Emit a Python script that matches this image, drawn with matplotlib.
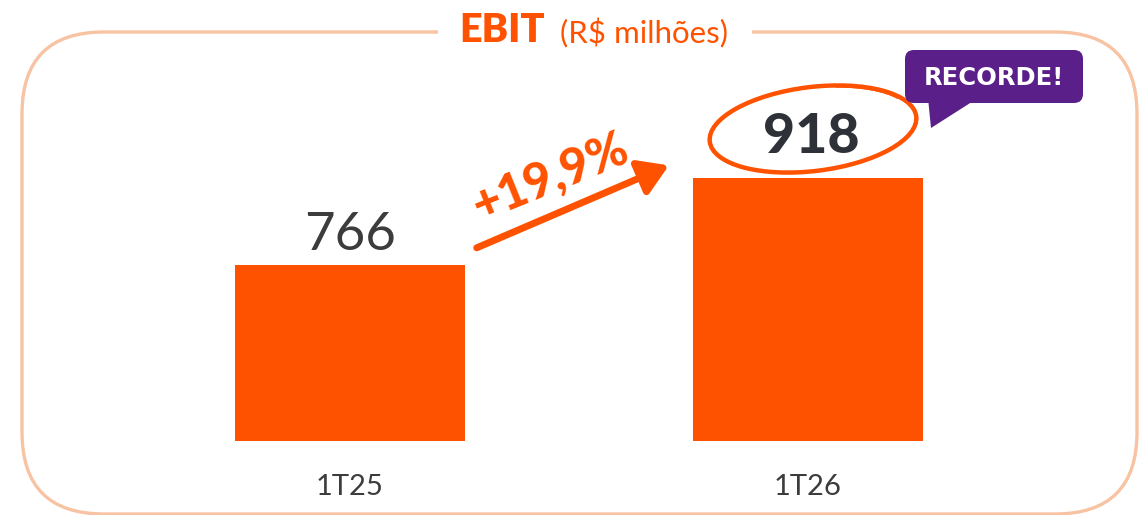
import numpy as np
import matplotlib.pyplot as plt
from matplotlib.patches import FancyBboxPatch, Ellipse, Arc, Polygon, Rectangle

periods = ["1T25", "1T26"]
ebit = [766, 918]
growth = "+19,9%"
record_tag = "RECORDE!"

ORANGE = "#FF5200"
FRAME = "#F8C3A2"
PURPLE = "#5A1F88"
DARK = "#2E3138"
GREY = "#3C3C3C"

plt.rcParams["font.family"] = ["Lato", "DejaVu Sans"]

W, H = 1145, 515
fig = plt.figure(figsize=(W / 100, H / 100), dpi=100)
fig.patch.set_facecolor("white")

# overlay in pixel units for the decorations (frame, title, tag)
deco = fig.add_axes([0, 0, 1, 1])
deco.set_xlim(0, W)
deco.set_ylim(H, 0)
deco.axis("off")

frame = FancyBboxPatch((22, 32), 1115, 482, boxstyle="round,pad=0,rounding_size=82",
                       fc="none", ec=FRAME, lw=2.4, clip_on=False)
deco.add_patch(frame)
deco.add_patch(Rectangle((438, 20), 314, 25, fc="white", ec="none"))
deco.text(459, 31, "EBIT", color=ORANGE, fontsize=28.5, fontweight="heavy", va="center", ha="left")
deco.text(560, 33, "(R$ milhões)", color=ORANGE, fontsize=22.5, va="center", ha="left")

# ellipse around the record value
deco.add_patch(Ellipse((813, 129), 208, 84, angle=-7, fc="none", ec=ORANGE, lw=3.2))
deco.add_patch(Arc((814, 127), 198, 78, angle=-7, theta1=-55, theta2=-12, ec=ORANGE, lw=1.8))

# RECORDE! speech bubble
deco.add_patch(FancyBboxPatch((905, 50), 178, 53, boxstyle="round,pad=0,rounding_size=9",
                              fc=PURPLE, ec="none"))
deco.add_patch(Polygon([(928, 98), (978, 98), (931, 128)], closed=True, fc=PURPLE, ec="none"))
deco.text(994, 78, record_tag, color="white", fontsize=17.5, fontweight="bold",
          family="DejaVu Sans", ha="center", va="center")

# main bar axes
base = 458.5
scale = 0.5724  # pixels per unit
ax = fig.add_axes([0, 74 / H, 1, 1 - 74 / H])
ax.patch.set_alpha(0)
x = np.arange(len(periods))
ax.set_xlim(-350 / 457.5, 1 + (W - 807.5) / 457.5)
ax.set_ylim(base, base + 441 / scale)
ax.bar(x, ebit, width=230 / 457.5, color=ORANGE)

ax.annotate(str(ebit[0]), (x[0], ebit[0]), xytext=(0, 11), textcoords="offset points",
            ha="center", va="baseline", fontsize=38, color=GREY, fontweight="normal")
ax.annotate(str(ebit[1]), (x[1], ebit[1]), xytext=(3, 18), textcoords="offset points",
            ha="center", va="baseline", fontsize=40, color=DARK, fontweight="black")

# growth arrow between bars
ax.annotate("", xy=(0.697, 940), xytext=(0.277, 796),
            arrowprops=dict(arrowstyle="-|>,head_length=0.8,head_width=0.5",
                            mutation_scale=22, lw=5, color=ORANGE, shrinkA=0, shrinkB=0))
ax.text(0.44, 920, growth, rotation=22, ha="center", va="center", fontsize=35,
        fontweight="black", color=ORANGE, rotation_mode="anchor")

ax.set_xticks(x, periods)
ax.tick_params(axis="x", length=0, pad=24, labelsize=21, labelcolor=GREY)
ax.set_yticks([])
for s in ax.spines.values():
    s.set_visible(False)

fig.savefig("out.png", dpi=100, facecolor="white")
